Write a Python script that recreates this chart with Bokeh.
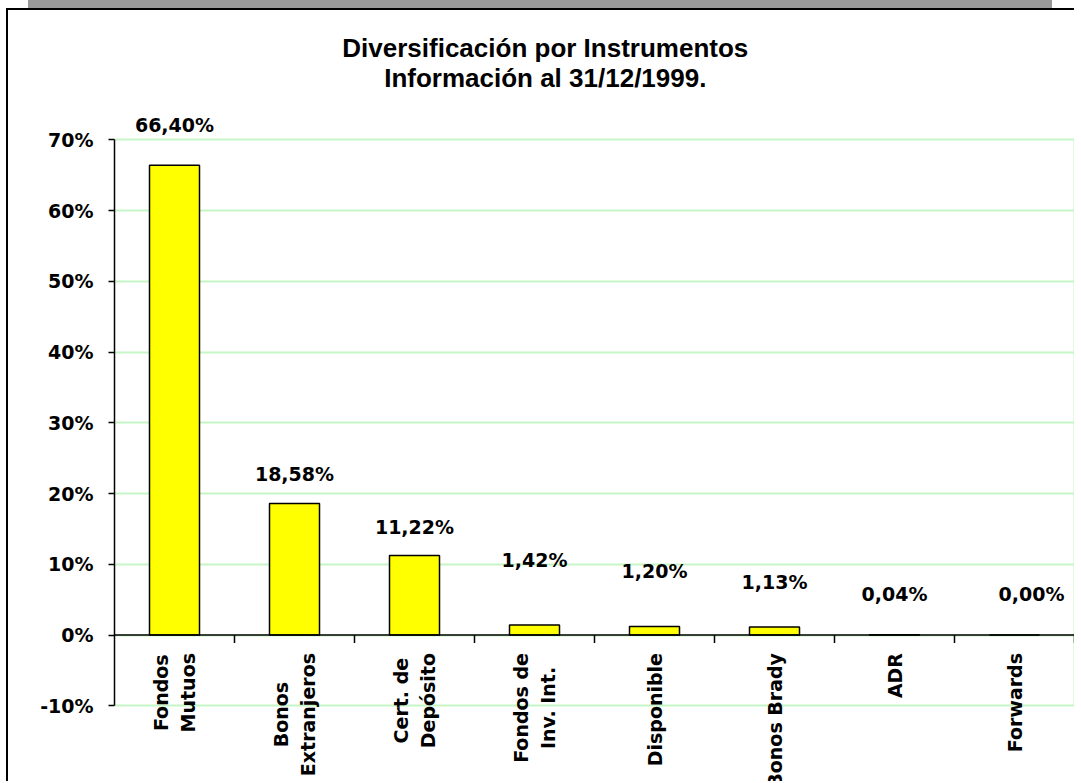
import math
from bokeh.plotting import figure
from bokeh.models import Range1d, FixedTicker, PrintfTickFormatter
from bokeh.core.properties import value
from bokeh.embed import file_html
from bokeh.resources import INLINE

# ---------------- data ----------------
title_lines = ["Diversificación por Instrumentos", "Información al 31/12/1999."]
categories = ["Fondos\nMutuos", "Bonos\nExtranjeros", "Cert. de\nDepósito",
              "Fondos de\nInv. Int.", "Disponible", "Bonos Brady", "ADR", "Forwards"]
shares = [66.40, 18.58, 11.22, 1.42, 1.20, 1.13, 0.04, 0.00]
y_ticks = [-10, 0, 10, 20, 30, 40, 50, 60, 70]

# ---------------- layout / style (pixels) ----------------
label_lift = [40, 30, 29, 65, 56, 45, 41, 41]   # value label height above bar top
label_dx = [0, 0, 0, 0, 0, 0, 0, 17]

W, H = 1068, 773
LEFT, RIGHT = 106, 1
PX_PER_CAT = 120.0
PX_PER_PCT = 7.075
ZERO_Y = 624.5

frame_w = W - LEFT - RIGHT
x_end = frame_w / PX_PER_CAT
y_top = ZERO_Y / PX_PER_PCT
y_bot = -(H - ZERO_Y) / PX_PER_PCT

n = len(categories)
xs = [i + 0.5 for i in range(n)]
value_text = [("%.2f" % v).replace(".", ",") + "%" for v in shares]

BOLD_FONT = value("DejaVu Sans")
GRID_GREEN = "#c6f6c6"

p = figure(width=W, height=H, x_range=Range1d(0, x_end), y_range=Range1d(y_bot, y_top),
           output_backend="svg", toolbar_location=None, x_axis_location=None,
           y_axis_location="left", min_border_left=LEFT, min_border_right=RIGHT,
           min_border_top=0, min_border_bottom=0)
p.styles = {"margin-left": "6px", "margin-top": "8px",
            "border-left": "2px solid black", "border-top": "2px solid black",
            "box-shadow": "0 -30px 0 -22px #999999"}
p.outline_line_color = None
p.background_fill_color = "white"
p.border_fill_color = "white"

yax = p.yaxis[0]
yax.ticker = FixedTicker(ticks=y_ticks)
yax.formatter = PrintfTickFormatter(format="%d%%")
yax.bounds = (min(y_ticks), max(y_ticks))
yax.axis_line_color = "black"
yax.axis_line_width = 1.5
yax.major_tick_line_color = "black"
yax.major_tick_line_width = 1.5
yax.major_tick_out = 6
yax.major_tick_in = 0
yax.minor_tick_out = 0
yax.minor_tick_in = 0
yax.major_label_text_font = "DejaVu Sans"
yax.major_label_text_font_style = "bold"
yax.major_label_text_font_size = "19px"
yax.major_label_text_color = "black"
yax.major_label_standoff = 15

p.xgrid.visible = False
p.ygrid.ticker = FixedTicker(ticks=y_ticks)
p.ygrid.grid_line_color = GRID_GREEN
p.ygrid.grid_line_width = 2

# right border of plot area
p.segment(x0=[n], y0=[min(y_ticks)], x1=[n], y1=[max(y_ticks)],
          line_color=GRID_GREEN, line_width=2)

# bars
p.vbar(x=xs, top=shares, bottom=0, width=50 / PX_PER_CAT,
       fill_color="#ffff00", line_color="black", line_width=1.5)

# category axis line at 0 and its ticks
p.segment(x0=[0], y0=[0], x1=[n], y1=[0], line_color="black", line_width=1.5)
tick_len = 8 / PX_PER_PCT
p.segment(x0=list(range(1, n + 1)), y0=[0] * n, x1=list(range(1, n + 1)), y1=[-tick_len] * n,
          line_color="black", line_width=1.5)

# value labels
p.text(x=xs, y=shares, text=value_text, x_offset=label_dx, y_offset=[-l for l in label_lift],
       text_align="center", text_baseline="middle", text_font=BOLD_FONT,
       text_font_style="bold", text_font_size="19px", text_color="black")

# category labels (rotated)
p.text(x=xs, y=[0] * n, text=categories, angle=math.pi / 2, y_offset=18,
       text_align="center", anchor=value("center_right"), text_font=BOLD_FONT,
       text_font_style="bold", text_font_size="19px", text_color="black",
       text_line_height=1.2)

# title
p.text(x=[3.59], y=[max(y_ticks)], text=["\n".join(title_lines)], y_offset=-77,
       text_align="center", text_baseline="middle", text_font=value("Liberation Sans"),
       text_font_style="bold", text_font_size="26px", text_color="black",
       text_line_height=1.0)

open("out.html", "w").write(file_html(p, INLINE))
